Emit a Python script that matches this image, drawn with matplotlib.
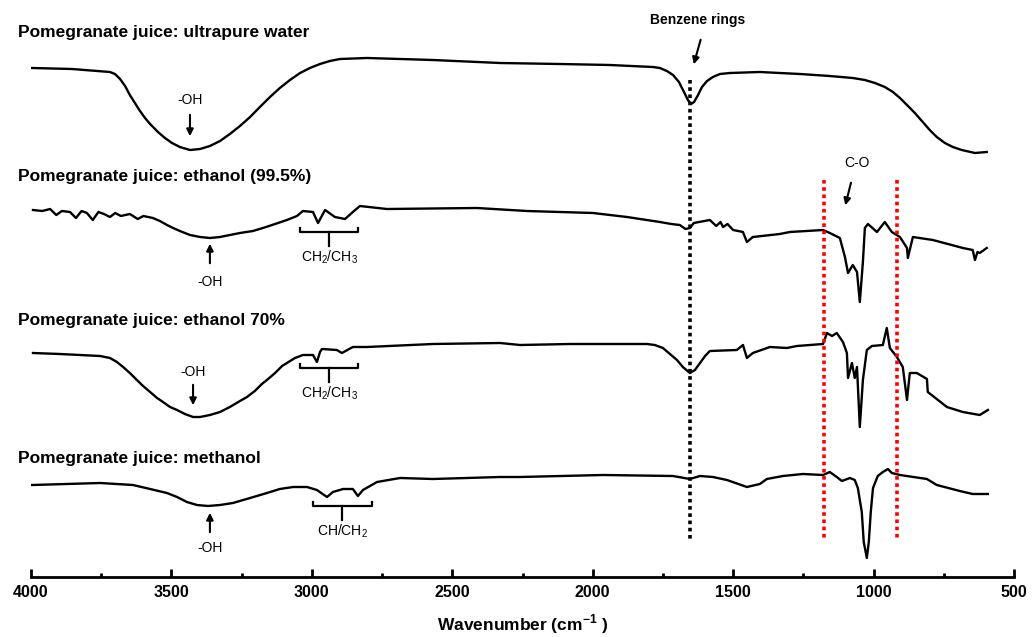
import numpy as np
import matplotlib.pyplot as plt

plt.rcParams['font.family'] = ['Liberation Sans', 'DejaVu Sans']

# FTIR spectra (wavenumber cm-1, transmittance a.u.)
water_wn = [3996, 3854, 3719, 3701, 3683, 3665, 3648, 3630, 3612, 3594, 3576, 3548, 3523, 3498,
            3470, 3434, 3398, 3363, 3327, 3292, 3256, 3220, 3185, 3149, 3114, 3078, 3042, 3007,
            2971, 2936, 2900, 2804, 2569, 2330, 2117, 1939, 1786, 1761, 1736, 1714, 1693, 1675,
            1661, 1650, 1639, 1625, 1611, 1593, 1572, 1547, 1512, 1405, 1262, 1156, 1074, 1031,
            995, 960, 931, 906, 881, 853, 828, 800, 775, 746, 718, 686, 639, 597]
water_t = [92, 91, 88, 86, 81, 74, 65, 57, 49, 42, 36, 28, 22, 17,
           13, 10, 11, 14, 19, 26, 34, 43, 53, 63, 72, 80, 87, 92,
           96, 99, 101, 102, 100, 97, 96, 95, 93, 92, 89, 85, 78, 68,
           60, 56, 58, 65, 73, 79, 83, 86, 87, 88, 86, 84, 82, 80,
           77, 73, 68, 62, 55, 47, 39, 30, 23, 17, 13, 10, 7, 8]

eth995_wn = [3993, 3960, 3932, 3910, 3890, 3861, 3840, 3820, 3801, 3780, 3760, 3740, 3719, 3700,
             3680, 3648, 3620, 3600, 3566, 3541, 3516, 3494, 3470, 3434, 3398, 3363, 3327, 3292,
             3256, 3210, 3174, 3131, 3089, 3053, 3032, 2996, 2978, 2953, 2918, 2882, 2854, 2829,
             2733, 2412, 2234, 1999, 1878, 1761, 1720, 1690, 1670, 1654, 1640, 1583, 1560, 1545,
             1536, 1520, 1500, 1465, 1451, 1430, 1334, 1298, 1180, 1156, 1120, 1102, 1091, 1074,
             1059, 1049, 1038, 1031, 1020, 988, 960, 935, 906, 881, 878, 860, 789, 682, 647,
             639, 630, 622, 597]
eth995_t = [100, 99, 101, 95, 99, 98, 92, 99, 97, 90, 98, 96, 93, 97,
            94, 96, 91, 94, 92, 89, 85, 82, 79, 75, 73, 72, 73, 75,
            77, 79, 82, 86, 90, 94, 99, 98, 87, 100, 93, 91, 98, 104,
            101, 102, 99, 97, 93, 88, 86, 85, 81, 82, 87, 90, 84, 88,
            83, 86, 80, 78, 68, 73, 76, 78, 80, 77, 72, 53, 37, 45,
            38, 8, 48, 82, 86, 78, 88, 78, 73, 62, 52, 73, 70, 62, 60,
            50, 58, 57, 62]

eth70_wn = [3993, 3897, 3754, 3719, 3694, 3672, 3648, 3623, 3601, 3576, 3551, 3530, 3505, 3480,
            3452, 3423, 3398, 3363, 3327, 3292, 3256, 3231, 3203, 3178, 3160, 3131, 3106, 3089,
            3060, 3032, 2996, 2982, 2971, 2964, 2911, 2893, 2854, 2804, 2569, 2330, 2259, 2081,
            1807, 1779, 1750, 1725, 1700, 1679, 1654, 1636, 1618, 1600, 1583, 1487, 1465, 1451,
            1430, 1369, 1309, 1273, 1180, 1166, 1148, 1131, 1109, 1095, 1091, 1077, 1067, 1059,
            1049, 1038, 1024, 1006, 967, 953, 942, 917, 896, 881, 871, 846, 810, 807, 739,
            682, 622, 593]
eth70_t = [77, 76, 74, 72, 68, 63, 57, 50, 44, 38, 32, 28, 23, 20,
           16, 13, 13, 15, 18, 23, 29, 33, 39, 46, 50, 57, 64, 67,
           72, 75, 75, 68, 78, 81, 80, 77, 83, 83, 86, 87, 85, 86,
           86, 85, 82, 76, 70, 63, 57, 60, 67, 74, 79, 80, 85, 72,
           77, 83, 82, 84, 86, 97, 94, 97, 88, 77, 52, 67, 52, 63,
           3, 50, 80, 84, 85, 102, 82, 73, 63, 30, 57, 57, 51, 38, 23,
           18, 15, 20]

meth_wn = [3996, 3754, 3637, 3576, 3516, 3480, 3445, 3409, 3370, 3327, 3281, 3220, 3160, 3114,
           3067, 3017, 2982, 2946, 2925, 2889, 2854, 2836, 2818, 2768, 2686, 2569, 2330, 2259,
           1964, 1714, 1654, 1618, 1572, 1522, 1451, 1405, 1380, 1323, 1252, 1180, 1156, 1131,
           1113, 1084, 1067, 1056, 1042, 1035, 1024, 1017, 1010, 1002, 985, 967, 949, 935, 906,
           810, 775, 693, 647, 593]
meth_t = [80, 82, 80, 76, 72, 68, 63, 60, 59, 60, 62, 67, 72, 76,
          78, 78, 75, 68, 73, 76, 76, 69, 75, 83, 87, 86, 88, 88,
          90, 89, 86, 89, 88, 85, 78, 81, 86, 89, 91, 90, 93, 88,
          84, 87, 85, 77, 53, 23, 7, 23, 53, 77, 89, 93, 96, 92, 90,
          86, 80, 74, 71, 71]

labels = ['Pomegranate juice: ultrapure water',
          'Pomegranate juice: ethanol (99.5%)',
          'Pomegranate juice: ethanol 70%',
          'Pomegranate juice: methanol']

benzene_wn = 1654
co_band_wn = [1177, 917]

fig = plt.figure(figsize=(10.33, 6.37), dpi=100)
ax = fig.add_axes([31 / 1033, 60 / 637, 983 / 1033, 577 / 637])

def py(ypx):
    # pixel row (from top) -> axis units
    return 577 - ypx

series = [(water_wn, water_t, 160), (eth995_wn, eth995_t, 310),
          (eth70_wn, eth70_t, 430), (meth_wn, meth_t, 565)]
for wn, t, ref in series:
    ax.plot(wn, np.array(t) + py(ref), color='black', lw=1.7)

for lab, ypx in zip(labels, [32, 176, 320, 458]):
    fig.text(18 / 1033, 1 - ypx / 637, lab, fontsize=12.5, fontweight='bold', va='center', ha='left')

# band markers
ax.plot([benzene_wn, benzene_wn], [py(80), py(540)], color='black', lw=2.6, ls=(0, (1, 1)))
for w in co_band_wn:
    ax.plot([w, w], [py(180), py(540)], color='red', lw=2.6, ls=(0, (1, 1)))

small = dict(fontsize=10, ha='center', va='center')
arrow = dict(arrowstyle='-|>', color='black', lw=1.5, mutation_scale=10)

ax.text(1627, py(20), 'Benzene rings', fontweight='bold', **small)
ax.annotate('', xy=(1643, py(67)), xytext=(1613, py(37)), arrowprops=arrow)
ax.text(1060, py(163), 'C-O', **small)
ax.annotate('', xy=(1103, py(208)), xytext=(1078, py(180)), arrowprops=arrow)

# -OH
ax.text(3434, py(100), '-OH', **small)
ax.annotate('', xy=(3434, py(139)), xytext=(3434, py(112)), arrowprops=arrow)
ax.text(3363, py(282), '-OH', **small)
ax.annotate('', xy=(3363, py(241)), xytext=(3363, py(266)), arrowprops=arrow)
ax.text(3423, py(372), '-OH', **small)
ax.annotate('', xy=(3423, py(408)), xytext=(3423, py(382)), arrowprops=arrow)
ax.text(3363, py(548), '-OH', **small)
ax.annotate('', xy=(3363, py(510)), xytext=(3363, py(535)), arrowprops=arrow)

# CH brackets
def bracket(w1, w2, ypx, text):
    wc = (w1 + w2) / 2
    ax.plot([w1, w1, w2, w2], [py(ypx - 4), py(ypx), py(ypx), py(ypx - 4)], color='black', lw=1.6)
    ax.plot([wc, wc], [py(ypx), py(ypx + 14)], color='black', lw=1.6)
    ax.text(wc, py(ypx + 25), text, **small)

bracket(3042, 2836, 232, 'CH$_\\mathregular{2}$/CH$_\\mathregular{3}$')
bracket(3042, 2836, 368, 'CH$_\\mathregular{2}$/CH$_\\mathregular{3}$')
bracket(2996, 2786, 506, 'CH/CH$_\\mathregular{2}$')

ax.set_xlim(4000, 500)
ax.set_ylim(0, 577)
ax.set_xticks(range(4000, 499, -500))
ax.set_xticks(range(3750, 500, -500), minor=True)
ax.tick_params(axis='x', which='major', direction='in', length=6, width=2, labelsize=11.5, pad=6)
ax.tick_params(axis='x', which='minor', direction='in', length=3, width=2)
for lab in ax.get_xticklabels():
    lab.set_fontweight('bold')
ax.set_yticks([])
for s in ['top', 'left', 'right']:
    ax.spines[s].set_visible(False)
ax.spines['bottom'].set_linewidth(2)
ax.patch.set_visible(False)

fig.text(523 / 1033, 1 - 624 / 637, 'Wavenumber (cm$^\\mathregular{-1}$ )', fontsize=12.5,
         fontweight='bold', ha='center', va='center')

fig.savefig('out.png', dpi=100)
